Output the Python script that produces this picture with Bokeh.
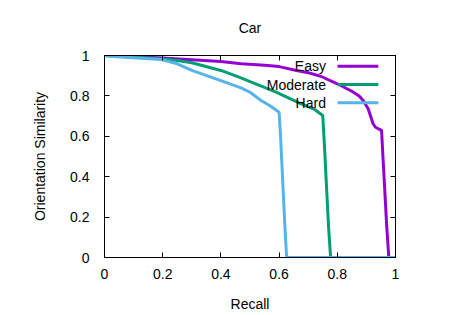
from bokeh.plotting import figure
from bokeh.models import Range1d, LinearAxis, FixedTicker, CustomJSTickFormatter, Label
from bokeh.embed import file_html
from bokeh.resources import INLINE

# ---- data ----
easy_x = [0, 0.1, 0.2, 0.3, 0.4, 0.47, 0.55, 0.6, 0.66, 0.7, 0.745, 0.8, 0.85,
          0.875, 0.889, 0.906, 0.923, 0.931, 0.952, 0.958, 0.964, 0.97, 0.977, 1.0]
easy_y = [1, 0.995, 0.988, 0.979, 0.97, 0.959, 0.952, 0.945, 0.926, 0.915, 0.896, 0.86,
          0.823, 0.80, 0.777, 0.736, 0.662, 0.645, 0.629, 0.47, 0.31, 0.15, 0, 0]

moderate_x = [0, 0.1, 0.2, 0.25, 0.3, 0.4, 0.469, 0.5, 0.584, 0.676, 0.72, 0.75,
              0.756, 0.763, 0.77, 0.777, 1.0]
moderate_y = [1, 0.993, 0.983, 0.975, 0.964, 0.926, 0.889, 0.871, 0.822, 0.761, 0.735,
              0.703, 0.55, 0.35, 0.15, 0, 0]

hard_x = [0, 0.03, 0.11, 0.195, 0.25, 0.3, 0.4, 0.469, 0.5, 0.538, 0.57, 0.6,
          0.605, 0.61, 0.615, 0.62, 0.626, 1.0]
hard_y = [1, 0.995, 0.988, 0.98, 0.959, 0.926, 0.876, 0.84, 0.818, 0.777, 0.75, 0.719,
          0.6, 0.45, 0.3, 0.15, 0, 0]

series_names = ["Easy", "Moderate", "Hard"]
series_colors = ["#9400D3", "#009E73", "#56B4E9"]

x_ticks = [0, 0.2, 0.4, 0.6, 0.8, 1.0]
x_tick_labels = ["0", "0.2", "0.4", "0.6", "0.8", "1"]
y_ticks = [0, 0.2, 0.4, 0.6, 0.8, 1.0]
y_tick_labels = ["0", "0.2", "0.4", "0.6", "0.8", "1"]

chart_title = "Car"

FONT = "Liberation Sans"
FS = "14px"

p = figure(width=450, height=315, output_backend="svg", toolbar_location=None,
           x_range=Range1d(0, 1), y_range=Range1d(0, 1),
           min_border_left=104, min_border_right=55, min_border_top=55, min_border_bottom=58)
p.background_fill_color = "white"
p.border_fill_color = "white"
p.outline_line_color = "black"
p.outline_line_width = 1
p.xgrid.visible = False
p.ygrid.visible = False

def style_axis(ax, ticks, labels=None):
    ax.ticker = FixedTicker(ticks=ticks)
    ax.major_tick_in = 5
    ax.major_tick_out = 0
    ax.minor_tick_line_color = None
    ax.axis_line_color = "black"
    ax.major_tick_line_color = "black"
    ax.major_label_text_font = FONT
    ax.major_label_text_font_size = FS
    ax.major_label_text_color = "black"
    ax.axis_label_text_font = FONT
    ax.axis_label_text_font_size = FS
    ax.axis_label_text_font_style = "normal"
    ax.axis_label_text_color = "black"
    if labels is not None:
        ax.major_label_overrides = {t: l for t, l in zip(ticks, labels)}
    else:
        ax.formatter = CustomJSTickFormatter(code="return '';")
        ax.major_label_standoff = 0

xa = p.xaxis[0]
style_axis(xa, x_ticks, x_tick_labels)
xa.axis_label = "Recall"
xa.major_label_standoff = 11
xa.axis_label_standoff = 14

ya = p.yaxis[0]
style_axis(ya, y_ticks, y_tick_labels)
ya.axis_label = "Orientation Similarity"
ya.major_label_standoff = 15
ya.axis_label_standoff = 19

# top axis: mirrored ticks, and carries the chart title above the frame (gnuplot style)
top_ax = LinearAxis()
style_axis(top_ax, x_ticks)
top_ax.axis_label = chart_title
top_ax.axis_label_standoff = 20
p.add_layout(top_ax, "above")

right_ax = LinearAxis()
style_axis(right_ax, y_ticks)
p.add_layout(right_ax, "right")

all_x = [easy_x, moderate_x, hard_x]
all_y = [easy_y, moderate_y, hard_y]
for xs, ys, c in zip(all_x, all_y, series_colors):
    p.line(xs, ys, line_color=c, line_width=3)

# legend (gnuplot style: text right-aligned, sample line to the right)
leg_text_x = 0.761
leg_line_x0, leg_line_x1 = 0.801, 0.941
leg_rows_y = [0.947, 0.856, 0.766]
for name, c, yy in zip(series_names, series_colors, leg_rows_y):
    p.add_layout(Label(x=leg_text_x, y=yy, text=name, text_align="right",
                       text_baseline="middle", text_font=FONT, text_font_size=FS,
                       text_color="black"))
    p.line([leg_line_x0, leg_line_x1], [yy, yy], line_color=c, line_width=3)

open("out.html", "w").write(file_html(p, INLINE))
